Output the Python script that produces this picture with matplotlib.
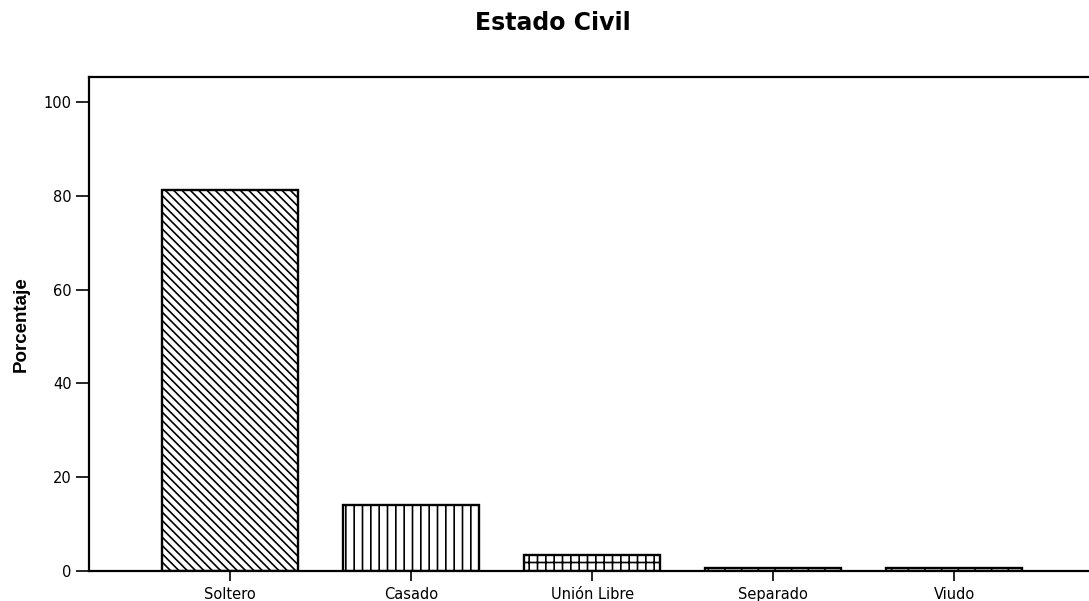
import matplotlib
matplotlib.use("Agg")
import matplotlib.pyplot as plt

categories = ["Soltero", "Casado", "Unión Libre", "Separado", "Viudo"]
values = [81.3, 14.1, 3.4, 0.7, 0.7]
hatches = ["\\\\\\\\", "||", "++", "|", "|"]
yticks = [0, 20, 40, 60, 80, 100]

plt.rcParams['font.family'] = ['DejaVu Sans']
plt.rcParams['hatch.linewidth'] = 1.2

fig = plt.figure(figsize=(10.89, 6.01), dpi=100)
ax = fig.add_axes([89/1089, 1-571/601, 1.0 - 89/1089 + 0.01, (571-77)/601])

x = list(range(len(categories)))
bars = ax.bar(x, values, width=0.75, color="white", edgecolor="black", linewidth=1.7)
for b, h in zip(bars, hatches):
    b.set_hatch(h)

ax.set_xlim(-0.78, 4.75 + 0.055)
ax.set_ylim(0, 105.3)
ax.set_xticks(x)
ax.set_xticklabels(categories, fontsize=10.5)
ax.set_yticks(yticks)
ax.set_yticklabels([str(t) for t in yticks], fontsize=10.5)
ax.tick_params(axis='y', length=9.5, width=1.2, pad=3, direction='out')
ax.tick_params(axis='x', length=7.5, width=1.2, pad=4, direction='out')
for s in ["left", "bottom", "top"]:
    ax.spines[s].set_linewidth(1.6)
ax.spines["right"].set_visible(False)

ax.set_ylabel("Porcentaje", fontsize=13.5, fontweight="bold", labelpad=10,
              family=['Liberation Sans', 'DejaVu Sans'])
fig.text(553/1089, 1 - 23/601, "Estado Civil", ha="center", va="center", fontsize=17, fontweight="bold")

fig.savefig("out.png", dpi=100)
